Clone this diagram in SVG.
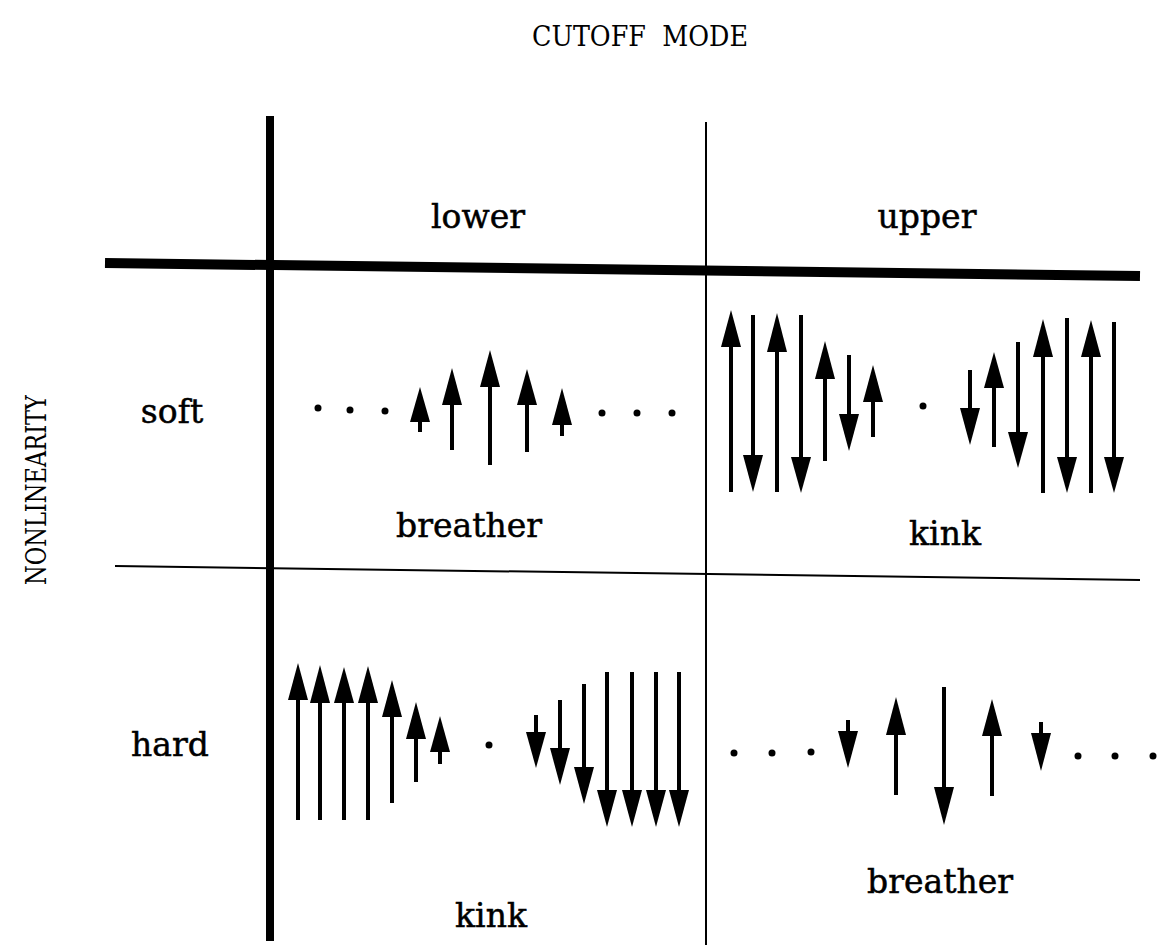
<svg xmlns="http://www.w3.org/2000/svg" width="1165" height="952" viewBox="0 0 1165 952">
<style>
text{font-family:"DejaVu Serif","Liberation Serif",serif;fill:#000;text-anchor:middle}
.lbl{font-size:33px;stroke:#000;stroke-width:0.5}
.ttl{font-size:27px}
.sh{stroke:#000;stroke-width:4;fill:none}
.hd{fill:#000}
.dot{fill:#000}
</style>
<rect width="1165" height="952" fill="#fff"/>
<g id="grid">
<line x1="270" y1="116" x2="270" y2="941" stroke="#000" stroke-width="8"/>
<line x1="706" y1="122" x2="706" y2="945" stroke="#000" stroke-width="2"/>
<line x1="105" y1="263" x2="1140" y2="276" stroke="#000" stroke-width="10"/>
<line x1="115" y1="566" x2="1140" y2="580" stroke="#000" stroke-width="2"/>
</g>
<g id="title"><text class="ttl" x="640" y="46" textLength="216" lengthAdjust="spacingAndGlyphs" xml:space="preserve">CUTOFF  MODE</text></g>
<g id="axis-y"><text class="ttl" x="0" y="0" transform="translate(46,490) rotate(-90)" textLength="190" lengthAdjust="spacingAndGlyphs">NONLINEARITY</text></g>
<g id="col-lower"><text class="lbl" x="478" y="228">lower</text></g>
<g id="col-upper"><text class="lbl" x="927" y="228">upper</text></g>
<g id="row-soft"><text class="lbl" x="172" y="423">soft</text></g>
<g id="row-hard"><text class="lbl" x="170" y="756">hard</text></g>
<g id="soft-lower">
<circle class="dot" cx="318" cy="408" r="3.5"/><circle class="dot" cx="350" cy="410" r="3.5"/><circle class="dot" cx="385" cy="411" r="3.5"/>
<circle class="dot" cx="602" cy="413" r="3.5"/><circle class="dot" cx="637" cy="413" r="3.5"/><circle class="dot" cx="672" cy="413" r="3.5"/>
<line class="sh" x1="420" y1="420" x2="420" y2="432"/><polygon class="hd" points="420,387 410,422 430,422"/>
<line class="sh" x1="452" y1="403" x2="452" y2="450"/><polygon class="hd" points="452,368 442,405 462,405"/>
<line class="sh" x1="490" y1="385" x2="490" y2="465"/><polygon class="hd" points="490,350 480,387 500,387"/>
<line class="sh" x1="527" y1="403" x2="527" y2="452"/><polygon class="hd" points="527,369 517,405 537,405"/>
<line class="sh" x1="562" y1="423" x2="562" y2="436"/><polygon class="hd" points="562,388 552,425 572,425"/>
<text class="lbl" x="469" y="537">breather</text>
</g>
<g id="soft-upper">
<line class="sh" x1="731" y1="345" x2="731" y2="492"/><polygon class="hd" points="731,310 721,347 741,347"/>
<line class="sh" x1="753" y1="315" x2="753" y2="457"/><polygon class="hd" points="753,492 743,455 763,455"/>
<line class="sh" x1="777" y1="350" x2="777" y2="492"/><polygon class="hd" points="777,313 767,352 787,352"/>
<line class="sh" x1="801" y1="315" x2="801" y2="459"/><polygon class="hd" points="801,493 791,457 811,457"/>
<line class="sh" x1="825" y1="377" x2="825" y2="461"/><polygon class="hd" points="825,341 815,379 835,379"/>
<line class="sh" x1="849" y1="355" x2="849" y2="416"/><polygon class="hd" points="849,451 839,414 859,414"/>
<line class="sh" x1="873" y1="400" x2="873" y2="437"/><polygon class="hd" points="873,365 863,402 883,402"/>
<circle class="dot" cx="923" cy="406" r="3.5"/>
<line class="sh" x1="970" y1="370" x2="970" y2="410"/><polygon class="hd" points="970,445 960,408 980,408"/>
<line class="sh" x1="994" y1="386" x2="994" y2="447"/><polygon class="hd" points="994,352 984,388 1004,388"/>
<line class="sh" x1="1018" y1="342" x2="1018" y2="434"/><polygon class="hd" points="1018,468 1008,432 1028,432"/>
<line class="sh" x1="1043" y1="355" x2="1043" y2="493"/><polygon class="hd" points="1043,319 1033,357 1053,357"/>
<line class="sh" x1="1067" y1="318" x2="1067" y2="459"/><polygon class="hd" points="1067,493 1057,457 1077,457"/>
<line class="sh" x1="1091" y1="355" x2="1091" y2="493"/><polygon class="hd" points="1091,320 1081,357 1101,357"/>
<line class="sh" x1="1114" y1="322" x2="1114" y2="459"/><polygon class="hd" points="1114,493 1104,457 1124,457"/>
<text class="lbl" x="945" y="545">kink</text>
</g>
<g id="hard-lower">
<line class="sh" x1="298" y1="698" x2="298" y2="820"/><polygon class="hd" points="298,663 288,700 308,700"/>
<line class="sh" x1="320" y1="701" x2="320" y2="820"/><polygon class="hd" points="320,665 310,703 330,703"/>
<line class="sh" x1="344" y1="701" x2="344" y2="820"/><polygon class="hd" points="344,667 334,703 354,703"/>
<line class="sh" x1="368" y1="701" x2="368" y2="820"/><polygon class="hd" points="368,666 358,703 378,703"/>
<line class="sh" x1="392" y1="715" x2="392" y2="803"/><polygon class="hd" points="392,680 382,717 402,717"/>
<line class="sh" x1="416" y1="737" x2="416" y2="782"/><polygon class="hd" points="416,702 406,739 426,739"/>
<line class="sh" x1="440" y1="750" x2="440" y2="764"/><polygon class="hd" points="440,716 430,752 450,752"/>
<circle class="dot" cx="489" cy="745" r="3.5"/>
<line class="sh" x1="536" y1="715" x2="536" y2="734"/><polygon class="hd" points="536,768 526,732 546,732"/>
<line class="sh" x1="560" y1="700" x2="560" y2="750"/><polygon class="hd" points="560,785 550,748 570,748"/>
<line class="sh" x1="584" y1="684" x2="584" y2="769"/><polygon class="hd" points="584,804 574,767 594,767"/>
<line class="sh" x1="607" y1="672" x2="607" y2="792"/><polygon class="hd" points="607,827 597,790 617,790"/>
<line class="sh" x1="632" y1="672" x2="632" y2="792"/><polygon class="hd" points="632,827 622,790 642,790"/>
<line class="sh" x1="656" y1="672" x2="656" y2="792"/><polygon class="hd" points="656,827 646,790 666,790"/>
<line class="sh" x1="679" y1="672" x2="679" y2="792"/><polygon class="hd" points="679,827 669,790 689,790"/>
<text class="lbl" x="491" y="927">kink</text>
</g>
<g id="hard-upper">
<circle class="dot" cx="734" cy="753" r="3.5"/><circle class="dot" cx="772" cy="753" r="3.5"/><circle class="dot" cx="811" cy="752" r="3.5"/>
<line class="sh" x1="848" y1="720" x2="848" y2="733"/><polygon class="hd" points="848,768 838,731 858,731"/>
<line class="sh" x1="896" y1="733" x2="896" y2="795"/><polygon class="hd" points="896,697 886,735 906,735"/>
<line class="sh" x1="944" y1="687" x2="944" y2="789"/><polygon class="hd" points="944,825 934,787 954,787"/>
<line class="sh" x1="992" y1="734" x2="992" y2="796"/><polygon class="hd" points="992,699 982,736 1002,736"/>
<line class="sh" x1="1041" y1="722" x2="1041" y2="735"/><polygon class="hd" points="1041,771 1031,733 1051,733"/>
<circle class="dot" cx="1078" cy="756" r="3.5"/><circle class="dot" cx="1115" cy="756" r="3.5"/><circle class="dot" cx="1153" cy="756" r="3.5"/>
<text class="lbl" x="940" y="893">breather</text>
</g>
</svg>
